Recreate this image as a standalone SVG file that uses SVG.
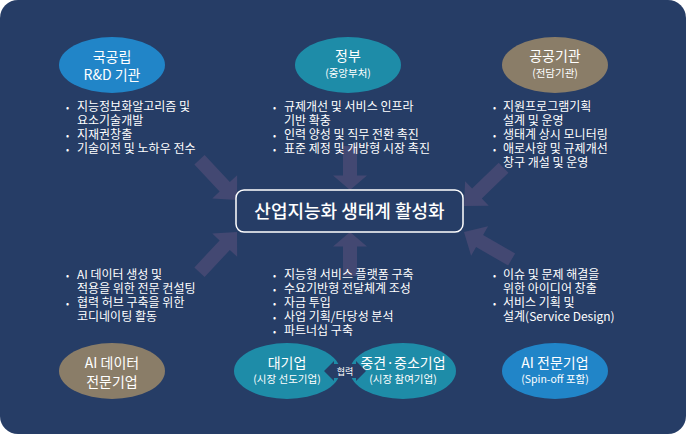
<svg xmlns="http://www.w3.org/2000/svg" xmlns:xlink="http://www.w3.org/1999/xlink" width="686" height="434" viewBox="0 0 686 434">
<style>
text{font-family:"Noto Sans CJK KR","Noto Sans",sans-serif;fill:#fff}
.t{font-size:14px;text-anchor:middle}
.s{font-size:10.5px;text-anchor:middle}
.l{font-size:12px}
.b{font-size:9px}
.ar{fill:#434872}
</style>
<defs>
<path id="arr" d="M-55,-7 L-18,-7 L-18,-17 L0,0 L-18,17 L-18,7 L-55,7 Z"/>
</defs>
<rect x="0" y="0" width="686" height="434" rx="18" fill="#263d66"/>
<g id="connectors">
<use xlink:href="#arr" class="ar" transform="translate(237,200) rotate(47)"/>
<use xlink:href="#arr" class="ar" transform="translate(350,190) rotate(90) scale(0.8,1)"/>
<use xlink:href="#arr" class="ar" transform="translate(464,206) rotate(136)"/>
<use xlink:href="#arr" class="ar" transform="translate(237,232) rotate(-47)"/>
<use xlink:href="#arr" class="ar" transform="translate(350,232) rotate(-90) scale(0.8,1)"/>
<use xlink:href="#arr" class="ar" transform="translate(464,232) rotate(-150)"/>
</g>
<g id="center">
<rect x="236" y="190" width="227" height="42" rx="8" fill="#263d66" stroke="#fff" stroke-width="1.5"/>
<text x="349.5" y="218" style="font-size:18px;text-anchor:middle;font-weight:500">산업지능화 생태계 활성화</text>
</g>
<g id="n1"><ellipse cx="112" cy="65" rx="53" ry="28" fill="#2185c8"/><text class="t" x="112" y="62">국공립</text><text class="t" x="112" y="80">R&amp;D 기관</text></g>
<g id="n2"><ellipse cx="348" cy="65" rx="53" ry="28" fill="#1e8ca8"/><text class="t" x="348" y="61">정부</text><text class="s" x="348" y="77">(중앙부처)</text></g>
<g id="n3"><ellipse cx="555" cy="65" rx="53" ry="28" fill="#8a7d68"/><text class="t" x="555" y="61">공공기관</text><text class="s" x="555" y="77">(전담기관)</text></g>
<g id="n4"><ellipse cx="112" cy="371" rx="53" ry="28" fill="#8a7d68"/><text class="t" x="112" y="368">AI 데이터</text><text class="t" x="112" y="387">전문기업</text></g>
<g id="n5"><ellipse cx="287" cy="371" rx="53" ry="28" fill="#1e8ca8"/><text class="t" x="287" y="368">대기업</text><text class="s" x="287" y="383">(시장 선도기업)</text></g>
<g id="n6"><ellipse cx="403" cy="371" rx="53" ry="28" fill="#1e8ca8"/><text class="t" x="403" y="368">중견·중소기업</text><text class="s" x="403" y="383">(시장 참여기업)</text></g>
<g id="n7"><ellipse cx="555" cy="371" rx="53" ry="28" fill="#2185c8"/><text class="t" x="555" y="368">AI 전문기업</text><text class="s" x="555" y="383">(Spin-off 포함)</text></g>
<g id="coop">
<path d="M324,371 L334,361 L334,364 L356,364 L356,361 L366,371 L356,381 L356,378 L334,378 L334,381 Z" fill="#263d66"/>
<text x="345" y="375" style="font-size:9px;text-anchor:middle">협력</text>
</g>
<g id="lists" class="l">
<text x="66" y="111"><tspan class="b">•</tspan></text><text x="77" y="111">지능정보화알고리즘 및</text><text x="77" y="125">요소기술개발</text><text x="66" y="139"><tspan class="b">•</tspan></text><text x="77" y="139">지재권창출</text><text x="66" y="153"><tspan class="b">•</tspan></text><text x="77" y="153">기술이전 및 노하우 전수</text>
<text x="273" y="111"><tspan class="b">•</tspan></text><text x="284" y="111">규제개선 및 서비스 인프라</text><text x="284" y="125">기반 확충</text><text x="273" y="139"><tspan class="b">•</tspan></text><text x="284" y="139">인력 양성 및 직무 전환 촉진</text><text x="273" y="153"><tspan class="b">•</tspan></text><text x="284" y="153">표준 제정 및 개방형 시장 촉진</text>
<text x="493" y="111"><tspan class="b">•</tspan></text><text x="503" y="111">지원프로그램기획</text><text x="503" y="125">설계 및 운영</text><text x="493" y="139"><tspan class="b">•</tspan></text><text x="503" y="139">생태계 상시 모니터링</text><text x="493" y="153"><tspan class="b">•</tspan></text><text x="503" y="153">애로사항 및 규제개선</text><text x="503" y="167">창구 개설 및 운영</text>
<text x="66" y="279"><tspan class="b">•</tspan></text><text x="77" y="279">AI 데이터 생성 및</text><text x="77" y="293">적용을 위한 전문 컨설팅</text><text x="66" y="307"><tspan class="b">•</tspan></text><text x="77" y="307">협력 허브 구축을 위한</text><text x="77" y="321">코디네이팅 활동</text>
<text x="273" y="279"><tspan class="b">•</tspan></text><text x="284" y="279">지능형 서비스 플랫폼 구축</text><text x="273" y="293"><tspan class="b">•</tspan></text><text x="284" y="293">수요기반형 전달체계 조성</text><text x="273" y="307"><tspan class="b">•</tspan></text><text x="284" y="307">자금 투입</text><text x="273" y="321"><tspan class="b">•</tspan></text><text x="284" y="321">사업 기획/타당성 분석</text><text x="273" y="335"><tspan class="b">•</tspan></text><text x="284" y="335">파트너십 구축</text>
<text x="493" y="279"><tspan class="b">•</tspan></text><text x="503" y="279">이슈 및 문제 해결을</text><text x="503" y="293">위한 아이디어 창출</text><text x="493" y="307"><tspan class="b">•</tspan></text><text x="503" y="307">서비스 기획 및</text><text x="503" y="321">설계(Service Design)</text>
</g>
</svg>
